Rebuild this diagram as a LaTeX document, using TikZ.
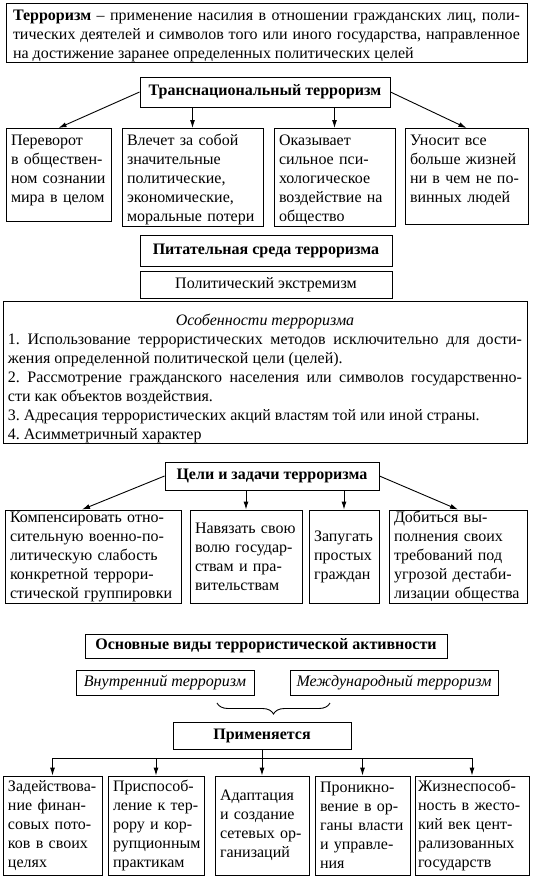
\documentclass[tikz,border=0pt]{standalone}
\usepackage{fontspec}
\setmainfont{Liberation Serif}
\usetikzlibrary{arrows.meta,decorations.pathreplacing}
\setlength{\parindent}{0pt}
\frenchspacing
\newcommand{\boxfont}{\fontsize{16}{19}\selectfont}
\tikzset{
	frame/.style={draw, line width=0.9pt, font=\boxfont},
	head/.style={frame, font=\boxfont\bfseries, inner sep=0pt},
	kind/.style={frame, font=\boxfont\itshape, inner sep=0pt},
	item/.style={frame, align=left, inner xsep=5pt, inner ysep=0pt},
	topitem/.style={item, anchor=north, inner ysep=5pt, text height=12pt},
	link/.style={-{Latex[length=8pt,width=5pt]}, line width=0.9pt}
}

\begin{document}
\begin{tikzpicture}[x=1pt, y=-1pt]
	\useasboundingbox (0,0) rectangle (538,878);

	% Definition
	\node[frame, align=justify, text width=507pt, minimum height=59pt, inner xsep=7pt, inner ysep=0pt] (def) at (266.5,32.5) {\rule{0pt}{17pt}\textbf{Терроризм} – применение насилия в отношении гражданских лиц, поли-\linebreak тических деятелей и символов того или иного государства, направленное\linebreak на достижение заранее определенных политических целей};

	% Transnational terrorism
	\node[head, minimum width=250pt, minimum height=30pt] (trans) at (265,92) {Транснациональный терроризм};
	\node[topitem, text width=95pt, text depth=71pt] (effect_1) at (58.5,128) {Переворот\\в обществен-\\ном сознании\\мира в целом};
	\node[topitem, text width=131pt, text depth=76pt] (effect_2) at (192.5,128) {Влечет за собой\\значительные\\политические,\\экономические,\\моральные потери};
	\node[topitem, text width=111pt, text depth=76pt] (effect_3) at (334.5,128) {Оказывает\\сильное пси-\\хологическое\\воздействие на\\общество};
	\node[topitem, text width=113pt, text depth=74pt] (effect_4) at (466.5,128) {Уносит все\\больше жизней\\ни в чем не по-\\винных людей};

	% Arrows
	\draw[link] (trans.west) -- (effect_1.north);
	\draw[link] (trans.south -| effect_2.north) -- (effect_2.north);
	\draw[link] (trans.south -| effect_3.north) -- (effect_3.north);
	\draw[link] (trans.east) -- (effect_4.north);

	% Breeding ground
	\node[head, minimum width=252pt, minimum height=31pt] (ground) at (266,250.5) {Питательная среда терроризма};
	\node[frame, inner sep=0pt, minimum width=252pt, minimum height=27pt] (extrem) at (266,284.5) {Политический экстремизм};

	% Features
	\node[frame, align=justify, text width=514pt, minimum height=141pt, inner xsep=5pt, inner ysep=0pt] (feat) at (265,372.5) {{\centering\itshape\rule{0pt}{24pt}Особенности терроризма\par}
		1. Использование террористических методов исключительно для дости-\linebreak жения определенной политической цели (целей).\par
		2. Рассмотрение гражданского населения или символов государственно-\linebreak сти как объектов воздействия.\par
		3. Адресация террористических акций властям той или иной страны.\par
		4. Асимметричный характер};

	% Goals
	\node[head, minimum width=214pt, minimum height=28pt] (goals) at (272,476) {Цели и задачи терроризма};
	\node[item, text width=166pt, minimum height=93pt] (goal_1) at (93,556.5) {Компенсировать отно-\\сительную военно-по-\\литическую слабость\\конкретной террори-\\стической группировки};
	\node[item, text width=102pt, minimum height=93pt] (goal_2) at (246,556.5) {Навязать свою\\волю государ-\\ствам и пра-\\вительствам};
	\node[item, text width=60pt, minimum height=93pt] (goal_3) at (344,556.5) {Запугать\\простых\\граждан};
	\node[item, text width=128pt, minimum height=93pt] (goal_4) at (458,556.5) {Добиться вы-\\полнения своих\\требований под\\угрозой дестаби-\\лизации общества};

	% Arrows
	\draw[link] (goals.west) -- ([xshift=-11pt]goal_1.north);
	\draw[link] (goals.south -| goal_2.north) -- (goal_2.north);
	\draw[link] (goals.south -| goal_3.north) -- (goal_3.north);
	\draw[link] (goals.east) -- (goal_4.north);

	% Kinds of activity
	\node[head, minimum width=362pt, minimum height=24pt] (kinds) at (266,646) {Основные виды террористической активности};
	\node[kind, minimum width=178pt, minimum height=25pt] (inner) at (165,682.5) {Внутренний терроризм};
	\node[kind, minimum width=208pt, minimum height=25pt] (intl) at (394,682.5) {Международный терроризм};
	\coordinate (brace_l) at (217,703);
	\coordinate (brace_r) at (330,703);
	\draw[line width=0.9pt, decorate, decoration={brace, mirror, amplitude=11pt}] (brace_l) -- (brace_r);

	% Applied
	\node[head, minimum width=178pt, minimum height=27pt] (prim) at (262,735.5) {Применяется};
	\node[item, text width=89pt, minimum height=99pt] (use_1) at (52.5,825.5) {Задействова-\\ние финан-\\совых пото-\\ков в своих\\целях};
	\node[item, text width=86pt, minimum height=99pt] (use_2) at (156,825.5) {Приспособ-\\ление к тер-\\рору и кор-\\рупционным\\практикам};
	\node[item, text width=84pt, minimum height=99pt] (use_3) at (262,825.5) {Адаптация\\и создание\\сетевых ор-\\ганизаций};
	\node[item, text width=85pt, minimum height=99pt] (use_4) at (362.5,825.5) {Проникно-\\вение в ор-\\ганы власти\\и управле-\\ния};
	\node[item, text width=108pt, inner xsep=3pt, minimum height=99pt] (use_5) at (472,825.5) {Жизнеспособ-\\ность в жесто-\\кий век цент-\\рализованных\\государств};

	% Arrows
	\coordinate (bus) at (262,758);
	\draw[line width=0.9pt] (prim.south) -- (bus);
	\draw[line width=0.9pt] (bus -| use_1.north) -- (bus -| use_5.north);
	\foreach \i in {1,...,5}
		\draw[link] (bus -| use_\i.north) -- (use_\i.north);
\end{tikzpicture}
\end{document}
